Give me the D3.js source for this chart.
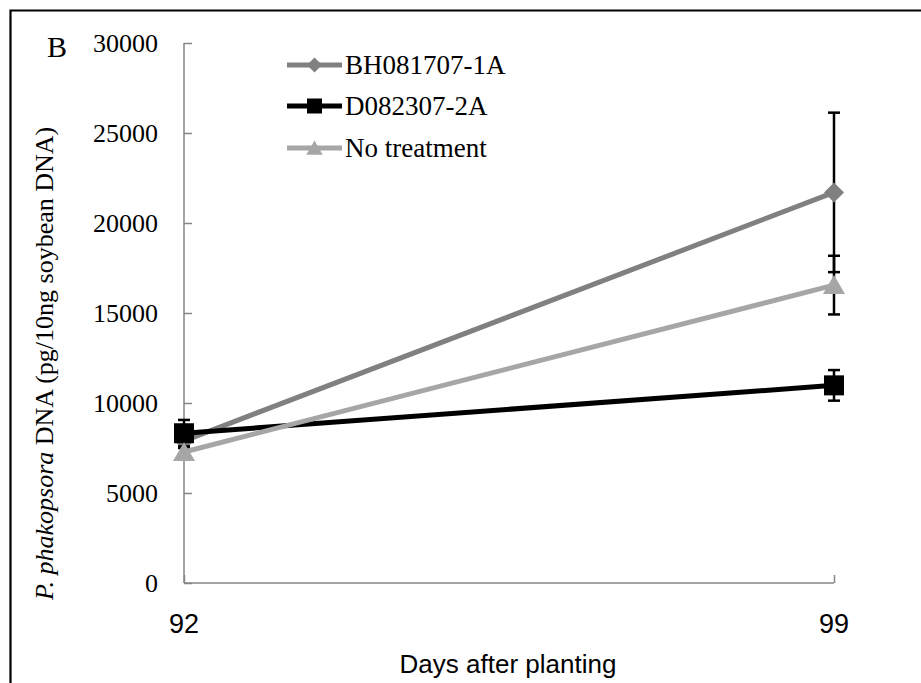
<!DOCTYPE html>
<html><head><meta charset="utf-8">
<script src="https://cdn.jsdelivr.net/npm/d3@7"></script>
<style>body{margin:0;background:#fff}svg{display:block}</style>
</head><body>
<svg id="c" width="921" height="683"></svg>
<script>
const days = [92, 99];
const seriesNames = ["BH081707-1A", "D082307-2A", "No treatment"];
const bhValues = [7900, 21700];
const bhErrors = [400, 4430];
const dValues = [8320, 10980];
const dErrors = [740, 850];
const ntValues = [7280, 16550];
const ntErrors = [300, 1630];
const yTicks = [0, 5000, 10000, 15000, 20000, 25000, 30000];
const seriesColors = ["#808080", "#000000", "#a6a6a6"];
const seriesMarkers = ["diamond", "square", "triangle"];

const series = [
  {name: seriesNames[0], values: bhValues, errors: bhErrors, color: seriesColors[0], marker: seriesMarkers[0]},
  {name: seriesNames[1], values: dValues, errors: dErrors, color: seriesColors[1], marker: seriesMarkers[1]},
  {name: seriesNames[2], values: ntValues, errors: ntErrors, color: seriesColors[2], marker: seriesMarkers[2]}
];

const svg = d3.select("#c");
const serif = "'Liberation Serif','Times New Roman',serif";
const sans = "'Liberation Sans',Arial,sans-serif";

// frame (top and left visible)
svg.append("path").attr("d", "M10.5,683 L10.5,10.5 L921,10.5").attr("fill", "none").attr("stroke", "#000").attr("stroke-width", 2.2);

const x = d3.scalePoint().domain(days).range([184, 834]);
const y = d3.scaleLinear().domain([0, 30000]).range([583, 43]);
const axisColor = "#868686";

// y axis
const ya = svg.append("g").attr("transform", "translate(184,0)")
  .call(d3.axisRight(y).tickValues(yTicks).tickSize(8).tickFormat(""));
ya.select(".domain").remove();
ya.selectAll("line").attr("stroke", axisColor).attr("stroke-width", 1.5);
svg.append("line").attr("x1", 184).attr("x2", 184).attr("y1", y(30000)).attr("y2", y(0))
  .attr("stroke", axisColor).attr("stroke-width", 1.5);
svg.append("g").selectAll("text").data(yTicks).join("text")
  .attr("x", 158).attr("y", d => y(d) + 9)
  .attr("text-anchor", "end").attr("font-family", serif).attr("font-size", 26).attr("fill", "#000")
  .text(d => d);

// x axis
const xa = svg.append("g").attr("transform", `translate(0,${y(0)})`)
  .call(d3.axisTop(x).tickSize(8).tickFormat(""));
xa.select(".domain").remove();
xa.selectAll("line").attr("stroke", axisColor).attr("stroke-width", 1.5);
svg.append("line").attr("x1", x(92)).attr("x2", x(99)).attr("y1", y(0)).attr("y2", y(0))
  .attr("stroke", axisColor).attr("stroke-width", 1.5);
svg.append("g").selectAll("text").data(days).join("text")
  .attr("x", d => x(d)).attr("y", 633)
  .attr("text-anchor", "middle").attr("font-family", sans).attr("font-size", 27).attr("fill", "#000")
  .text(d => d);

svg.append("text").attr("x", 508).attr("y", 673).attr("text-anchor", "middle")
  .attr("font-family", sans).attr("font-size", 26).text("Days after planting");

// y title
const yt = svg.append("text").attr("transform", "translate(53,600) rotate(-90)")
  .attr("text-anchor", "start").attr("font-family", serif).attr("font-size", 26);
yt.append("tspan").attr("font-style", "italic").text("P. phakopsora");
yt.append("tspan").text(" DNA (pg/10ng soybean DNA)");

// panel letter
svg.append("text").attr("x", 47).attr("y", 57).attr("font-family", serif).attr("font-size", 30).text("B");

function markerPath(type, size) {
  const s = size / 2;
  if (type === "diamond") return `M0,${-s}L${s},0L0,${s}L${-s},0Z`;
  if (type === "square") return `M${-s},${-s}H${s}V${s}H${-s}Z`;
  return `M0,${-s}L${s * 1.1},${s * 0.9}L${-s * 1.1},${s * 0.9}Z`;
}

const line = d3.line().x((d, i) => x(days[i])).y(d => y(d));

series.forEach(s => {
  const g = svg.append("g");
  g.append("path").attr("d", line(s.values)).attr("fill", "none")
    .attr("stroke", s.color).attr("stroke-width", 5);
  // error bars
  s.values.forEach((v, i) => {
    const cx = x(days[i]);
    const e = s.errors[i];
    g.append("line").attr("x1", cx).attr("x2", cx).attr("y1", y(v + e)).attr("y2", y(v - e))
      .attr("stroke", "#000").attr("stroke-width", 2.5);
    [v + e, v - e].forEach(t => g.append("line").attr("x1", cx - 6).attr("x2", cx + 6)
      .attr("y1", y(t)).attr("y2", y(t)).attr("stroke", "#000").attr("stroke-width", 2.5));
  });
  s.values.forEach((v, i) => {
    g.append("path").attr("d", markerPath(s.marker, 20))
      .attr("transform", `translate(${x(days[i])},${y(v)})`).attr("fill", s.color);
  });
});

// legend
const legendY = [65, 106, 148];
series.forEach((s, i) => {
  const g = svg.append("g").attr("transform", `translate(0,${legendY[i]})`);
  g.append("line").attr("x1", 287).attr("x2", 342).attr("y1", 0).attr("y2", 0)
    .attr("stroke", s.color).attr("stroke-width", 5);
  g.append("path").attr("d", markerPath(s.marker, 15)).attr("transform", "translate(314.5,0)").attr("fill", s.color);
  g.append("text").attr("x", 345).attr("y", 9).attr("font-family", serif).attr("font-size", 27).text(s.name);
});
</script>
</body></html>
